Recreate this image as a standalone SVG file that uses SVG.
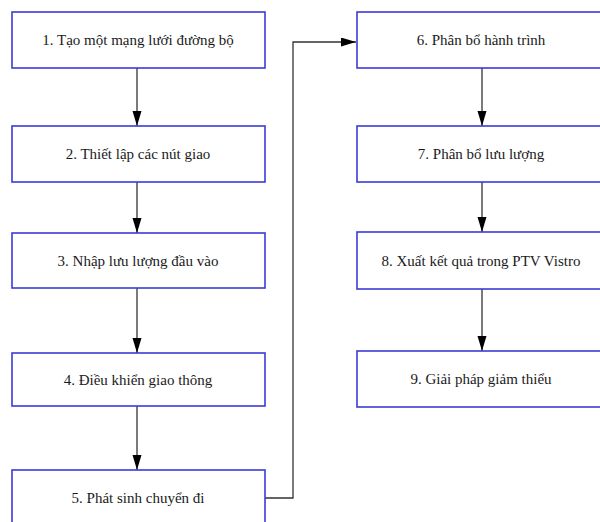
<svg xmlns="http://www.w3.org/2000/svg" width="600" height="522" viewBox="0 0 600 522">
<defs>
<style>
.box{fill:#ffffff;stroke:#3b3bd6;stroke-width:1.6}
.lbl{font-family:'Times New Roman','Liberation Serif',Tinos,'DejaVu Serif',serif;font-size:15px;fill:#1a1a1a;text-anchor:middle}
.edge{fill:none;stroke:#333333;stroke-width:1.3}
</style>
<marker id="ah" markerUnits="userSpaceOnUse" markerWidth="16" markerHeight="10" refX="15" refY="4.5" orient="auto">
<path d="M0,0 L15,4.5 L0,9 z" fill="#000000"/>
</marker>
</defs>
<rect width="600" height="522" fill="#ffffff"/>
<g id="connectors">
<line class="edge" x1="137" y1="68" x2="137" y2="126" marker-end="url(#ah)"/>
<line class="edge" x1="137" y1="182" x2="137" y2="233" marker-end="url(#ah)"/>
<line class="edge" x1="137" y1="288" x2="137" y2="353" marker-end="url(#ah)"/>
<line class="edge" x1="137" y1="406" x2="137" y2="470" marker-end="url(#ah)"/>
<polyline class="edge" points="265,498 293,498 293,42 356,42" marker-end="url(#ah)"/>
<line class="edge" x1="482" y1="68" x2="482" y2="126" marker-end="url(#ah)"/>
<line class="edge" x1="482" y1="182" x2="482" y2="232" marker-end="url(#ah)"/>
<line class="edge" x1="482" y1="289" x2="482" y2="351" marker-end="url(#ah)"/>
</g>
<g id="n1"><rect class="box" x="12" y="12" width="253" height="56"/><text class="lbl" x="138" y="45">1. Tạo một mạng lưới đường bộ</text></g>
<g id="n2"><rect class="box" x="12" y="126" width="253" height="56"/><text class="lbl" x="138" y="159">2. Thiết lập các nút giao</text></g>
<g id="n3"><rect class="box" x="12" y="233" width="253" height="55"/><text class="lbl" x="138" y="265.5">3. Nhập lưu lượng đầu vào</text></g>
<g id="n4"><rect class="box" x="12" y="353" width="253" height="53"/><text class="lbl" x="138" y="384.5">4. Điều khiển giao thông</text></g>
<g id="n5"><rect class="box" x="12" y="470" width="253" height="56"/><text class="lbl" x="138" y="503">5. Phát sinh chuyển đi</text></g>
<g id="n6"><rect class="box" x="357" y="12" width="253" height="56"/><text class="lbl" x="481" y="45">6. Phân bổ hành trình</text></g>
<g id="n7"><rect class="box" x="357" y="126" width="253" height="56"/><text class="lbl" x="481" y="159">7. Phân bổ lưu lượng</text></g>
<g id="n8"><rect class="box" x="357" y="232" width="253" height="57"/><text class="lbl" x="481" y="265.5">8. Xuất kết quả trong PTV Vistro</text></g>
<g id="n9"><rect class="box" x="357" y="351" width="253" height="56"/><text class="lbl" x="481" y="384">9. Giải pháp giảm thiểu</text></g>
</svg>
